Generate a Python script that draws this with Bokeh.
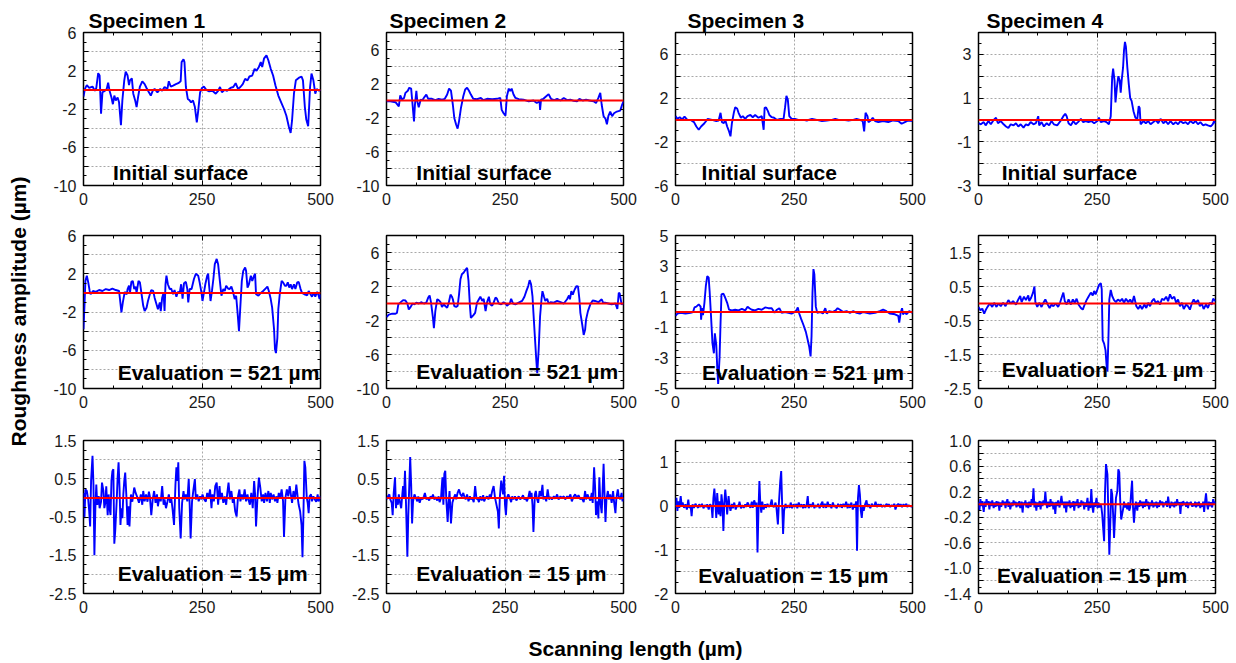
import math
from bokeh.plotting import figure
from bokeh.layouts import row, column
from bokeh.models import (Range1d, FixedTicker, LinearAxis, Span, Label,
                          CustomJSTickFormatter)
from bokeh.embed import file_html
from bokeh.resources import INLINE

FONT = "Liberation Sans"

# ---------------------------------------------------------------- labels
specimens = ["Specimen 1", "Specimen 2", "Specimen 3", "Specimen 4"]
row_captions = ["Initial surface", "Evaluation = 521 µm", "Evaluation = 15 µm"]
y_title = "Roughness amplitude (µm)"
x_title = "Scanning length (µm)"
x_ticks = [0, 250, 500]

# y axis per panel: (min, max, labelled step, decimals)
y_axes = [
    [(-10, 6, 4, 0), (-10, 8, 4, 0), (-6, 8, 4, 0), (-3, 4, 2, 0)],
    [(-10, 6, 4, 0), (-10, 8, 4, 0), (-5, 5, 2, 0), (-2.5, 2, 1, 1)],
    [(-2.5, 1.5, 1, 1), (-2.5, 1.5, 1, 1), (-2, 1.5, 1, 0), (-1.4, 1.0, 0.4, 1)],
]

# ---------------------------------------------------------------- profiles (x in µm, amplitude in µm)
s1_initial = [(0,-0.7),(3,0.1),(7,0.5),(12,0.2),(19,0.35),(24,-0.1),(27,0.2),(31,1.75),(34,1.5),(37,-2.5),(40,-0.25),(45,-0.1),(49,0.1),(52,0.75),(55,-0.1),(59,-0.8),(62,-1.5),(65,-0.6),(68,-1.1),(72,-0.8),(75,-1.3),(79,-3.7),(82,-1.1),(86,1.0),(89,1.9),(93,1.5),(96,0.5),(98,1.0),(102,1.2),(105,-0.4),(109,-1.1),(112,-1.8),(115,-0.8),(119,0.35),(124,0.9),(129,0.6),(133,0.2),(138,-0.25),(142,-0.6),(146,-0.1),(150,0.1),(156,-0.25),(162,0.1),(166,-0.1),(171,0.3),(177,0.1),(180,0.9),(184,0.35),(189,0.45),(195,0.6),(200,0.7),(205,0.9),(207,2.9),(211,3.2),(213,2.9),(216,0.3),(220,-0.95),(223,-1.05),(227,-1.3),(231,-1.1),(235,-1.8),(239,-3.4),(242,-2.2),(246,-0.25),(250,0.2),(254,0.35),(259,0),(265,-0.15),(272,-0.1),(279,-0.4),(284,-0.1),(288,0.3),(292,-0.25),(298,0),(303,-0.1),(310,0.2),(316,0.3),(321,0.7),(326,0.1),(331,0.3),(336,0.6),(341,1.15),(346,1.0),(350,1.4),(356,1.5),(361,2.2),(365,2.0),(370,2.4),(374,2.9),(377,2.4),(381,3.3),(386,3.6),(390,3.1),(395,2.2),(400,1.5),(405,0.45),(411,-0.6),(417,-1.3),(423,-2.0),(428,-2.7),(433,-3.8),(437,-4.5),(440,-3.2),(444,-0.4),(448,1.0),(454,1.25),(460,1.4),(463,1.0),(467,-1.8),(470,-3.1),(474,-3.8),(478,0.3),(481,1.7),(485,1.0),(489,-0.4),(492,0.1),(497,-0.1),(500,0)]

s2_initial = [(0,-0.1),(8,-0.1),(19,-0.2),(26,-0.7),(29,0.6),(33,0.1),(37,0.3),(40,0.9),(45,1.15),(48,1.5),(52,1.4),(55,-0.5),(58,-2.45),(60,-0.5),(63,1.15),(65,-0.1),(68,-0.8),(72,0.1),(76,0.05),(80,0.4),(84,0.7),(88,0.2),(96,0.2),(103,0.05),(110,0.2),(117,0.1),(123,0.2),(128,0.7),(132,1.4),(136,1.15),(140,-0.5),(143,-2.05),(147,-2.85),(150,-3.3),(153,-2.45),(157,-0.9),(162,0.5),(166,1.3),(170,1.5),(174,1.15),(178,0.7),(183,0.2),(191,0.15),(199,0.3),(204,0.05),(212,0.2),(223,0.15),(233,0.2),(240,0.3),(243,-1.1),(247,-1.5),(251,-1.8),(254,0.5),(258,1.4),(261,1.1),(264,1.4),(268,0.7),(272,0.3),(279,0.15),(289,0.1),(300,-0.1),(310,0),(317,-0.3),(323,-0.1),(324,-1.1),(326,0.1),(331,0.2),(337,0.5),(342,0.75),(347,0.2),(354,0.05),(360,0.2),(367,0),(374,0.3),(381,0.05),(388,0.1),(395,-0.05),(402,-0.1),(407,0.2),(414,0),(421,0.1),(428,0),(437,-0.1),(442,-0.3),(447,0.3),(451,0.9),(454,-0.5),(458,-1.85),(462,-2.15),(465,-2.8),(468,-1.85),(472,-1.3),(476,-1.85),(480,-1.5),(486,-1.3),(493,-1.2),(497,-0.5),(500,-0.1)]

s3_initial = [(0,0.35),(4,0.1),(9,0.25),(14,0.05),(19,0.3),(25,0),(32,0),(39,-0.2),(44,-0.6),(49,-0.9),(54,-0.6),(61,-0.3),(68,0.1),(77,0),(86,-0.1),(91,-0.05),(95,0.65),(98,-0.2),(102,-0.3),(105,0),(109,-0.6),(113,-1.05),(116,-1.5),(119,-0.3),(123,0.65),(126,1.15),(130,1.05),(133,0.65),(138,0.2),(142,0.35),(147,0.1),(152,0.35),(158,0.45),(163,0.25),(168,0.45),(175,0.2),(182,0.35),(186,-0.9),(188,1.1),(191,1.15),(195,0.8),(198,0.45),(203,0.25),(208,0.2),(214,0),(221,0.1),(228,0.1),(231,1.1),(234,2.2),(237,1.85),(240,0.35),(245,0.1),(252,0.1),(259,0),(270,0),(277,-0.05),(288,0.1),(298,0),(309,-0.1),(319,-0.05),(330,0),(337,0.1),(344,0),(354,0),(365,-0.05),(375,0),(382,0.1),(389,0),(395,-0.1),(398,-1.05),(401,0.65),(405,0.35),(407,-0.2),(412,-0.05),(416,0.2),(421,-0.1),(428,-0.2),(438,-0.1),(449,-0.2),(459,-0.05),(470,-0.1),(477,-0.35),(484,-0.2),(491,-0.05),(500,-0.1)]

s4_initial = [(0,-0.15),(5,-0.2),(11,-0.1),(15,-0.25),(21,-0.05),(26,-0.2),(32,0),(37,0.1),(41,-0.15),(47,-0.05),(53,-0.2),(58,-0.3),(63,-0.37),(68,-0.2),(74,-0.25),(79,-0.15),(84,-0.3),(89,-0.2),(95,-0.35),(100,-0.2),(105,-0.25),(110,-0.1),(116,-0.2),(121,-0.15),(126,0.17),(128,-0.25),(133,-0.1),(138,-0.3),(144,-0.15),(149,-0.25),(154,-0.05),(159,-0.2),(166,-0.25),(173,-0.05),(179,0.17),(183,0.28),(186,0.17),(190,-0.15),(195,-0.25),(200,-0.05),(205,-0.2),(210,-0.1),(216,0.05),(221,-0.1),(226,-0.05),(232,-0.1),(238,-0.05),(244,-0.15),(251,-0.05),(254,0.1),(258,-0.1),(265,-0.05),(270,-0.1),(275,-0.2),(279,0.17),(282,1.95),(284,2.35),(287,1.8),(289,0.8),(292,1.5),(295,2.0),(298,1.8),(300,1.25),(302,1.8),(305,2.4),(307,3.2),(309,3.57),(311,3.35),(314,2.4),(317,1.65),(320,1.0),(323,0.87),(327,0.4),(331,0.1),(335,0.05),(338,0.63),(340,0.55),(342,-0.2),(348,-0.05),(353,-0.15),(358,-0.05),(363,-0.2),(369,-0.1),(374,0),(379,-0.15),(384,0.05),(390,-0.15),(395,-0.05),(400,-0.2),(405,-0.05),(411,-0.2),(416,-0.1),(421,-0.2),(426,-0.05),(432,-0.15),(437,-0.1),(442,-0.2),(447,-0.05),(453,-0.15),(458,-0.05),(463,-0.2),(468,-0.1),(474,-0.25),(479,-0.2),(484,-0.25),(490,-0.3),(494,-0.2),(497,-0.05),(500,-0.15)]

s1_eval521 = [(0,-3.8),(2,-1.4),(4,1.25),(7,1.8),(10,1.1),(13,0.2),(15,-0.15),(20,0.2),(26,0.1),(33,0.3),(40,0.2),(47,0.4),(54,0.3),(61,0.45),(68,0.3),(75,0.2),(77,-0.65),(80,-2.05),(83,-1.0),(87,0.1),(91,-0.15),(93,0.4),(96,0.75),(98,0),(101,1.15),(104,1.25),(107,0.4),(110,0.65),(112,0),(116,1.25),(119,1.1),(123,-0.3),(126,-1.35),(129,-1.9),(133,-1.55),(136,-0.85),(140,-0.15),(143,0.3),(147,0.2),(150,-0.5),(154,-1.2),(157,-1.7),(161,-1.0),(163,-1.9),(166,-0.5),(169,0),(171,-1.9),(173,0.9),(175,1.8),(178,0.9),(182,0.4),(185,0.45),(189,-0.15),(192,0.3),(196,-0.4),(199,0.1),(203,0),(206,0.9),(209,-0.6),(212,1.0),(216,1.15),(219,0.4),(221,-1.0),(224,0.4),(228,0.4),(233,1.45),(237,2.0),(242,1.8),(245,1.1),(249,0),(251,-0.85),(254,0),(257,0.9),(261,1.8),(263,2.0),(265,0.75),(268,-0.85),(271,0.2),(274,1.45),(277,3.0),(281,3.55),(284,3.0),(288,1.1),(291,-0.3),(295,0.4),(298,0.2),(301,0.75),(305,0.45),(308,0.4),(312,0.65),(315,0.2),(319,-0.65),(322,-0.3),(325,-2.05),(328,-4.0),(331,-1.35),(334,1.25),(337,2.3),(341,2.65),(343,2.3),(346,0.55),(349,0.9),(353,1.8),(356,1.25),(360,1.8),(362,2.0),(364,-0.15),(369,-0.3),(374,0),(379,0.2),(384,0.45),(388,0.65),(391,0.2),(395,-0.65),(398,-1.55),(402,-3.8),(404,-5.9),(406,-6.3),(409,-4.7),(411,-1.7),(414,-0.15),(418,1.25),(421,1.1),(425,0.75),(428,0.75),(431,1.1),(434,0.55),(437,0.9),(440,0.4),(444,0.9),(447,0.4),(451,1.1),(454,1.15),(458,0.4),(461,0),(466,-0.15),(472,-0.25),(475,0.2),(479,-0.15),(482,-0.4),(486,0),(489,-0.4),(493,0.1),(496,-0.25),(498,-0.65),(500,-0.15)]

s2_eval521 = [(0,-1.6),(5,-1.3),(12,-1.2),(19,-1.2),(22,-1.1),(25,-0.1),(29,0.1),(35,0.4),(40,0.35),(44,0),(47,-0.7),(51,-0.4),(55,0),(59,-0.1),(63,0.1),(68,0),(73,0.15),(79,0),(84,0.1),(88,0.7),(91,0.95),(94,0.1),(98,-1.7),(100,-2.9),(103,-0.9),(107,0.5),(110,0.4),(114,0.15),(117,-0.4),(121,-0.1),(124,-0.3),(128,-0.5),(131,0),(135,1.05),(138,0.8),(140,0.5),(143,-0.3),(147,-0.4),(150,-0.3),(153,1.05),(156,2.85),(159,3.45),(163,3.65),(167,4.0),(170,4.2),(173,2.65),(176,-0.3),(178,-1.7),(183,-1.4),(187,-1.1),(191,0.1),(195,0.5),(198,0.8),(202,0.3),(205,0.55),(209,-0.9),(212,0.1),(216,0.8),(219,-0.1),(223,-0.25),(226,0.1),(230,0.7),(233,0.55),(237,0),(242,-0.1),(247,0.15),(251,0),(254,-0.25),(260,0),(263,0.55),(267,0),(272,-0.1),(279,0.1),(286,0.3),(291,0.8),(295,1.45),(299,2.05),(302,2.75),(305,2.25),(308,0.85),(310,-1.1),(313,-3.9),(316,-6.65),(318,-8.2),(321,-5.45),(324,-1.5),(327,0.5),(329,1.45),(332,0.85),(335,0.3),(339,0.55),(342,0),(346,0.15),(353,0.1),(360,0.3),(367,0.15),(374,0),(381,0.5),(385,0.95),(387,0.5),(390,1.45),(393,1.05),(397,1.65),(401,2.05),(404,2.0),(407,0.5),(409,-1.1),(413,-2.5),(416,-3.7),(419,-3.1),(421,-1.9),(425,-0.9),(430,-0.1),(435,0.35),(440,0.3),(447,0.15),(454,0.5),(457,0.1),(461,0.1),(468,0),(475,-0.1),(483,0),(487,-0.65),(490,1.25),(492,1.2),(496,-0.1),(500,0)]

s3_eval521 = [(0,-0.25),(4,-0.1),(11,-0.05),(21,-0.1),(32,-0.05),(37,0),(40,0.3),(44,0.35),(49,0.5),(53,0.35),(54,-0.5),(56,0.25),(58,-0.2),(61,0.6),(64,1.7),(67,2.35),(70,2.25),(72,1.35),(75,-0.3),(78,-2.05),(81,-2.7),(83,-1.4),(86,-2.15),(88,-3.6),(90,-4.7),(93,-2.95),(95,-0.75),(97,1.15),(101,1.2),(104,1.0),(109,0.6),(113,0.15),(119,0.1),(126,0.15),(133,0.1),(140,0.2),(147,0.1),(152,0.35),(156,0.25),(161,0.15),(168,0.1),(175,0.2),(182,0.15),(189,0.3),(196,0.25),(203,0.25),(209,-0.05),(214,0.15),(219,0.25),(224,-0.05),(231,0),(238,-0.05),(245,-0.1),(252,0),(256,0.15),(258,0.3),(261,-0.1),(265,-0.45),(270,-0.85),(275,-1.3),(278,-1.7),(282,-2.25),(285,-2.9),(287,-1.6),(289,1.25),(291,2.8),(293,2.45),(296,0.35),(299,-0.05),(305,0),(311,-0.1),(316,0.25),(319,-0.1),(324,0.05),(331,0),(338,0.1),(342,0.25),(347,0.15),(354,0),(361,0.05),(368,-0.05),(375,0.05),(382,-0.05),(389,-0.1),(396,0),(403,-0.05),(410,-0.1),(421,-0.05),(431,0.05),(438,0.15),(445,0.05),(452,-0.1),(463,-0.15),(470,-0.25),(472,-0.7),(475,-0.05),(478,0.25),(480,-0.15),(484,0),(487,-0.15),(493,0.05),(500,-0.05)]

s4_eval521 = [(0,-0.1),(4,-0.2),(8,-0.15),(12,-0.3),(15,-0.2),(19,-0.1),(24,0),(29,-0.1),(33,0.02),(38,-0.1),(42,0),(47,-0.08),(52,0.02),(57,-0.08),(63,0.1),(68,0),(73,0.07),(79,-0.03),(84,0.12),(88,0.22),(91,0.04),(96,0.2),(100,0.1),(105,0.24),(107,0.07),(111,0.17),(115,0.32),(118,0.5),(120,0.04),(124,-0.1),(128,0.02),(133,-0.1),(137,0.02),(141,0.12),(146,-0.03),(150,-0.13),(154,-0.03),(158,-0.08),(163,0),(168,-0.1),(172,0.02),(176,0.2),(179,0.32),(182,0.07),(186,-0.03),(190,0.12),(195,-0.03),(199,0.12),(203,0.02),(207,0.14),(211,-0.03),(216,-0.13),(220,-0.18),(224,-0.03),(228,0.1),(232,0.2),(237,0.32),(241,0.24),(244,0.37),(247,0.27),(251,0.42),(254,0.54),(258,0.6),(260,0.42),(262,-1.08),(265,-1.18),(268,-1.38),(270,-1.78),(272,-2.0),(274,-1.08),(276,0.12),(279,0.4),(282,0.22),(286,0.1),(290,0.04),(294,0.12),(299,0.07),(303,0.14),(307,0.02),(311,0.14),(316,0.04),(320,0.12),(324,0),(328,0.22),(333,-0.08),(337,-0.16),(341,-0.06),(345,-0.16),(350,-0.03),(354,-0.13),(358,0.02),(362,-0.08),(366,0.07),(370,0.14),(374,0.02),(379,0.07),(383,-0.03),(387,0.14),(391,0.1),(396,0.2),(400,0.07),(404,0.27),(408,0.14),(413,0.2),(417,0.02),(421,0.12),(425,-0.08),(429,0.02),(433,-0.16),(438,-0.03),(442,-0.08),(446,-0.18),(450,0),(454,0.12),(458,0.02),(463,0.1),(467,-0.08),(471,0),(475,-0.16),(480,-0.03),(484,-0.13),(488,0.02),(492,-0.03),(495,0.14),(500,0.07)]

s1_eval15 = [(0,0.13),(2,-0.53),(4,0.22),(7,0.18),(10,-0.05),(12,-0.35),(14,-0.75),(16,0.45),(19,1.1),(21,0.35),(23,-1.5),(25,-0.27),(27,0.35),(29,-0.18),(32,0.05),(34,-0.27),(37,-0.1),(39,0.4),(42,0.18),(44,-0.27),(46,-0.13),(48,0.3),(51,-0.45),(53,0.09),(55,-0.27),(57,-0.45),(59,0.45),(61,0.7),(63,0.75),(65,-1.2),(67,-0.85),(70,-0.09),(72,0.53),(74,0.93),(76,0.27),(78,-0.71),(80,-0.27),(82,-0.53),(84,0.09),(86,0.44),(88,0.66),(91,-0.09),(93,-0.71),(95,-0.22),(97,-0.75),(100,0.09),(103,-0.1),(107,0.27),(110,0.13),(114,0),(117,-0.13),(121,0.09),(124,-0.18),(126,0.18),(129,-0.09),(132,0.09),(135,-0.1),(138,0.16),(140,0.04),(143,-0.45),(146,-0.04),(149,0.18),(152,-0.13),(155,0.09),(157,-0.22),(160,0.02),(163,-0.09),(166,0.31),(169,-0.18),(171,-0.04),(174,-0.27),(177,-0.1),(180,0.09),(183,-0.13),(185,0),(188,-0.31),(191,-0.71),(194,0.35),(196,0.8),(198,0.44),(200,0.93),(202,-0.27),(205,-1.06),(208,-0.13),(211,0.18),(213,-0.04),(216,0.09),(219,-0.09),(222,0.49),(224,-0.18),(226,-1.06),(229,-0.09),(232,0.22),(235,0.49),(237,-0.04),(240,0.09),(243,-0.09),(246,0.04),(249,-0.04),(251,0.09),(254,-0.02),(258,-0.1),(261,0.13),(264,0),(267,0.22),(270,-0.27),(272,0.09),(275,-0.09),(278,0.31),(281,0.4),(284,-0.18),(287,0.31),(289,-0.04),(292,0.13),(295,-0.13),(298,0.04),(301,-0.18),(303,0.09),(306,0.4),(309,-0.04),(312,0.18),(315,-0.13),(317,0),(320,-0.35),(323,-0.49),(326,0.04),(329,0.22),(331,-0.09),(334,0.09),(337,-0.04),(340,0.22),(343,-0.09),(346,0.09),(348,-0.04),(351,-0.18),(354,0.13),(357,-0.27),(360,0.44),(362,0.09),(364,-0.75),(367,0),(370,0.53),(373,0.27),(376,-0.09),(379,0.09),(381,-0.13),(384,0.13),(387,-0.09),(390,0.18),(393,-0.13),(395,0.13),(398,-0.04),(401,0.09),(404,-0.09),(407,0.04),(409,-0.13),(412,0.13),(415,0),(418,0.22),(421,-0.09),(423,-1.02),(426,0),(429,0.22),(432,0.04),(435,0.31),(437,0.13),(440,-0.13),(443,0.18),(446,-0.04),(449,0.35),(452,0),(454,-0.18),(457,-0.35),(460,-0.71),(462,-1.55),(464,-0.44),(466,0.97),(468,0.8),(471,0),(473,-0.13),(475,-0.4),(477,0.04),(480,0.09),(482,-0.09),(485,0.04),(488,-0.04),(491,-0.1),(494,0.09),(496,-0.09),(500,0.04)]

s2_eval15 = [(0,-0.04),(3,0.04),(6,0.09),(8,-0.04),(11,-0.13),(13,-0.45),(15,0.09),(18,0.54),(20,-0.27),(22,0),(24,-0.18),(26,0.09),(28,-0.09),(31,-0.27),(33,0.04),(35,0.31),(37,0),(39,0.71),(41,-0.09),(44,-1.54),(46,-0.45),(48,0.31),(50,1.07),(52,0.36),(54,-0.67),(56,-0.09),(59,0.09),(62,0),(65,-0.09),(67,0.04),(70,-0.13),(73,0),(76,-0.04),(79,0.04),(81,0.13),(84,-0.04),(87,0),(90,-0.07),(93,0.04),(96,-0.02),(98,0.09),(101,-0.04),(104,0.02),(107,-0.07),(110,0.04),(112,-0.11),(115,0),(118,0.54),(120,-0.18),(122,0.63),(124,0.71),(126,0),(129,-0.63),(131,-0.13),(133,0.18),(136,-0.67),(139,-0.13),(142,0),(145,0.09),(147,-0.04),(150,0.13),(153,0.22),(156,0.09),(159,0.04),(162,0.13),(164,0.04),(167,-0.04),(170,0.09),(173,-0.09),(176,0.04),(178,-0.04),(181,0),(184,-0.11),(187,0.31),(190,-0.04),(192,0),(195,-0.11),(198,0.04),(201,-0.07),(204,0.07),(206,-0.09),(209,0),(212,0.04),(215,-0.04),(218,0.09),(220,0),(223,0.18),(226,0.31),(229,0),(232,-0.18),(235,-0.36),(237,-0.8),(239,0),(242,0.45),(244,0.27),(246,0.09),(248,0.58),(250,-0.18),(252,-0.45),(254,0),(257,0.09),(260,0),(263,-0.11),(265,0.04),(268,-0.04),(271,0.04),(274,-0.07),(277,0),(279,0.04),(282,-0.04),(285,0),(288,0.07),(291,-0.04),(294,0),(296,-0.09),(299,0),(302,0.18),(304,0),(306,0.13),(308,-0.18),(310,-0.89),(313,0.09),(315,0.18),(317,0),(320,-0.13),(323,0.18),(326,0.04),(329,0.34),(331,-0.04),(334,0.04),(337,-0.09),(340,0.22),(343,-0.04),(346,0.02),(349,-0.04),(353,0.04),(356,-0.02),(360,0.09),(363,-0.04),(367,0.04),(370,0),(374,0.04),(377,-0.04),(381,0.04),(384,0),(388,0.09),(391,-0.09),(395,0.04),(398,0.09),(402,0),(405,0.07),(409,-0.04),(412,0),(416,-0.11),(419,0.18),(421,-0.04),(424,0.09),(427,0),(430,-0.07),(433,0.13),(435,-0.13),(438,0.8),(440,0.31),(442,-0.45),(445,-0.09),(447,-0.54),(449,0.54),(451,-0.09),(454,-0.4),(456,0.22),(458,0.89),(460,0.09),(462,-0.63),(464,-0.04),(467,0.18),(469,-0.04),(472,0.09),(475,-0.13),(478,0.18),(480,-0.09),(483,-0.4),(485,0),(488,0.22),(490,0.04),(493,-0.04),(496,0.13),(498,-0.09),(500,0)]

s3_eval15 = [(0,-0.04),(2,0.19),(4,-0.11),(6,0.11),(8,-0.04),(11,0.23),(13,0),(15,0.08),(18,-0.04),(21,0.04),(24,-0.08),(27,0.15),(29,-0.04),(32,0),(34,-0.23),(36,0.04),(39,-0.04),(42,0.05),(45,0),(48,-0.04),(50,0.04),(53,-0.02),(56,0.05),(59,-0.05),(62,0.02),(65,-0.02),(67,0.04),(70,-0.08),(73,0.04),(76,0),(78,-0.27),(80,0.19),(82,0.4),(84,0.1),(86,-0.27),(88,0.3),(91,-0.19),(93,0.11),(95,-0.23),(97,0.27),(99,0.04),(101,-0.57),(103,0.08),(105,0.38),(107,0.13),(109,-0.19),(112,0.23),(114,0),(116,-0.11),(119,0.05),(121,-0.05),(124,0.08),(127,-0.08),(130,0.02),(133,-0.02),(135,0.1),(138,-0.05),(141,0.02),(144,-0.04),(147,0.04),(149,-0.02),(152,0.08),(155,0.02),(158,-0.04),(161,0.1),(163,-0.04),(166,0.13),(169,0.02),(171,0.08),(173,-1.06),(175,-0.11),(177,0.57),(179,0.04),(181,-0.15),(183,0.1),(186,-0.08),(189,0.04),(191,-0.04),(194,0.05),(197,-0.02),(200,0.02),(203,0.15),(205,0),(208,-0.02),(211,0.08),(213,-0.04),(216,-0.42),(218,0.04),(221,0.57),(223,0.8),(225,0.04),(227,-0.64),(229,-0.11),(232,0.05),(235,-0.04),(238,0.02),(241,-0.04),(243,0.08),(246,-0.05),(249,0.04),(252,-0.02),(255,0.05),(257,-0.05),(260,0.08),(263,-0.02),(266,0.04),(269,-0.05),(271,0.04),(274,-0.04),(277,0.05),(279,0.23),(281,-0.05),(284,0.04),(287,-0.02),(290,0.08),(293,-0.05),(295,0.02),(298,-0.02),(301,0.05),(304,-0.05),(307,0.04),(310,0.1),(312,-0.04),(315,0.05),(318,-0.04),(321,0.1),(324,-0.02),(326,0.04),(329,-0.05),(332,0.08),(335,-0.02),(337,0.02),(340,-0.05),(343,0.05),(346,-0.02),(349,0.04),(351,-0.04),(354,0.05),(357,-0.02),(360,0.1),(363,-0.05),(365,0.05),(368,-0.04),(371,0.08),(374,-0.08),(377,0.05),(379,-0.04),(381,0.11),(383,-1.02),(385,0.19),(387,0.48),(389,0.27),(391,-0.11),(393,-0.27),(395,0),(397,-0.11),(400,0.04),(403,0.13),(405,-0.02),(408,0.04),(411,-0.05),(414,0.05),(417,0),(420,0.02),(422,0.1),(425,-0.02),(428,0.04),(431,0),(433,0.04),(436,-0.02),(439,0.02),(442,-0.02),(445,0.05),(448,0),(450,0.04),(453,-0.02),(456,0.02),(459,0),(462,0.05),(464,-0.08),(467,0.02),(470,0.05),(473,0),(475,0.04),(478,-0.02),(481,0.04),(484,0),(487,0.05),(489,-0.02),(492,0.02),(495,0),(500,-0.02)]

s4_eval15 = [(0,0.04),(2,-0.1),(4,0.08),(6,-0.03),(8,0.05),(11,-0.12),(13,0.04),(15,-0.04),(17,0.08),(19,0),(21,0.05),(23,-0.08),(25,0.04),(27,-0.03),(29,0.06),(32,-0.06),(34,0.03),(36,-0.04),(38,0.05),(40,-0.03),(42,0.04),(44,-0.1),(46,0.03),(48,-0.04),(51,0.06),(53,-0.01),(55,0.04),(57,-0.06),(59,0.03),(61,0.08),(63,-0.04),(65,0.04),(67,-0.08),(70,0.03),(72,-0.03),(74,0.06),(76,-0.01),(78,0.04),(80,-0.05),(82,0.03),(84,-0.03),(86,0.05),(88,-0.06),(91,0.04),(93,-0.13),(95,0.03),(97,-0.01),(99,0.06),(101,-0.05),(103,0.03),(105,-0.06),(107,0.04),(110,-0.04),(112,0.08),(114,0.01),(116,0.25),(118,-0.05),(120,0.04),(122,-0.1),(124,0.03),(126,-0.04),(129,0.05),(131,-0.08),(133,0.04),(135,-0.03),(137,0.06),(139,-0.01),(141,0.2),(143,0.01),(145,-0.06),(147,0.04),(150,-0.04),(152,0.08),(154,-0.03),(156,0.04),(158,-0.08),(160,0.03),(162,-0.15),(164,0.04),(166,-0.03),(168,0.06),(171,-0.05),(173,0.03),(175,0.13),(177,0),(179,0.04),(181,-0.06),(183,0.04),(185,-0.13),(187,0.04),(190,-0.03),(192,0.06),(194,-0.06),(196,0.03),(198,-0.04),(200,0.05),(202,-0.1),(204,0.04),(206,-0.03),(209,0.08),(211,-0.06),(213,0.03),(215,-0.04),(217,0.06),(219,-0.01),(221,0.04),(223,-0.08),(225,0.03),(227,-0.04),(230,0.1),(232,-0.1),(234,0.04),(236,-0.06),(238,0.24),(240,-0.03),(242,-0.13),(244,0.03),(246,-0.04),(249,0.1),(251,-0.06),(253,0.03),(255,-0.05),(257,0),(259,-0.03),(261,-0.16),(263,-0.37),(265,-0.58),(267,0.21),(269,0.63),(272,0.47),(274,-0.16),(276,-0.79),(278,-0.32),(280,0.24),(282,0.16),(284,-0.16),(286,-0.53),(288,-0.21),(290,0.1),(293,0.21),(295,0.55),(297,0.5),(299,0.05),(301,-0.24),(303,-0.16),(305,-0.08),(307,0.04),(309,-0.05),(311,0),(314,-0.08),(316,0.03),(318,-0.1),(320,-0.05),(322,0.18),(324,0.37),(326,-0.05),(328,-0.29),(330,-0.08),(332,0.04),(335,-0.1),(337,0.03),(339,-0.04),(341,0.06),(343,-0.03),(345,0.04),(347,-0.06),(349,0.04),(351,-0.04),(354,0.08),(356,-0.03),(358,0.04),(360,-0.08),(362,0.03),(364,-0.03),(366,0.06),(369,-0.05),(371,0.03),(373,-0.03),(375,0.04),(377,-0.06),(379,0.03),(381,-0.04),(383,0.06),(385,-0.01),(388,0.04),(390,-0.05),(392,0.03),(394,-0.01),(396,0.05),(398,-0.04),(400,0.12),(402,0.01),(404,-0.06),(407,0.04),(409,-0.03),(411,0.03),(413,-0.05),(415,0.04),(417,-0.03),(419,0.08),(421,-0.01),(424,0.03),(426,-0.15),(428,0.04),(430,-0.03),(432,0.05),(434,-0.01),(436,0.03),(438,-0.04),(440,0.04),(442,-0.06),(444,0.03),(446,-0.01),(448,0.04),(451,-0.04),(453,0.01),(455,-0.03),(457,0.04),(459,-0.05),(461,0.03),(463,-0.03),(465,0.04),(468,-0.06),(470,0.01),(472,-0.04),(474,0.04),(476,-0.12),(478,0.04),(480,0.17),(482,0),(484,-0.08),(486,0.04),(488,-0.03),(490,0.03),(493,-0.05),(495,0.08),(497,0),(500,0.04)]

profiles = [
    [s1_initial, s2_initial, s3_initial, s4_initial],
    [s1_eval521, s2_eval521, s3_eval521, s4_eval521],
    [s1_eval15, s2_eval15, s3_eval15, s4_eval15],
]

# ---------------------------------------------------------------- layout geometry (px)
FRAME_W, FRAME_H = 237, 153
col_widths = [305, 295, 295, 301]
col_left = [43, 41, 35, 43]
row_heights = [212, 203, 205]
row_top = [32, 23, 25]
title_offsets = [5, 3, 12, 8]
# caption anchor (data units) in each panel
caption_at = [
    [(62, -8.6), (63, -8.45), (55, -4.78), (49, -2.41)],
    [(72, -8.36), (63, -8.04), (56, -3.97), (49, -1.94)],
    [(72, -1.99), (63, -1.99), (48, -1.58), (39, -1.12)],
]


def steps(lo, hi, step):
    n = int(round((hi - lo) / step))
    return [round(lo + i * step, 6) for i in range(n + 1)]


LABEL_JS = """
const k = (tick - lo) / step;
if (Math.abs(k - Math.round(k)) > 1e-6) return "";
return tick.toFixed(dec);
"""


def make_panel(r, c):
    lo, hi, lstep, dec = y_axes[r][c]
    w, h = col_widths[c], row_heights[r]
    left, top = col_left[c], row_top[r]
    p = figure(width=w, height=h, x_range=Range1d(0, 500), y_range=Range1d(lo, hi),
               toolbar_location=None, output_backend="svg",
               min_border_left=left, min_border_right=w - left - FRAME_W,
               min_border_top=top, min_border_bottom=h - top - FRAME_H,
               background_fill_color="white", border_fill_color="white",
               outline_line_color="black", outline_line_width=1.5)

    xt = FixedTicker(ticks=x_ticks, minor_ticks=steps(0, 500, 62.5))
    yt = FixedTicker(ticks=steps(lo, hi, lstep / 2), minor_ticks=steps(lo, hi, lstep / 4))
    p.xaxis.ticker = xt
    p.yaxis.ticker = yt
    p.xgrid.ticker = xt
    p.ygrid.ticker = yt
    p.yaxis.formatter = CustomJSTickFormatter(
        args=dict(lo=lo, step=lstep, dec=dec), code=LABEL_JS)

    p.add_layout(LinearAxis(ticker=xt, formatter=CustomJSTickFormatter(code="return '';"),
                            major_label_text_font_size="0px", major_label_standoff=0), "above")
    p.add_layout(LinearAxis(ticker=yt, formatter=CustomJSTickFormatter(code="return '';"),
                            major_label_text_font_size="0px", major_label_standoff=0), "right")

    for ax in p.axis:
        ax.axis_line_color = None
        ax.major_tick_in = 5
        ax.major_tick_out = 0
        ax.minor_tick_in = 3
        ax.minor_tick_out = 0
        ax.major_tick_line_color = "black"
        ax.minor_tick_line_color = "black"
    for ax in (p.below[0], p.left[0]):
        ax.major_label_text_font = FONT
        ax.major_label_text_font_size = "16px"
        ax.major_label_text_color = "#1a1a1a"
    p.below[0].major_label_standoff = 7
    p.left[0].major_label_standoff = 7

    p.grid.grid_line_color = "#a8a8a8"
    p.grid.grid_line_dash = "2 2"
    p.grid.grid_line_width = 1

    pts = profiles[r][c]
    p.line([q[0] for q in pts], [q[1] for q in pts], line_color="#0000ff", line_width=1.9)
    p.add_layout(Span(location=0, dimension="width", line_color="#ff0000", line_width=2))

    cx, cy = caption_at[r][c]
    p.add_layout(Label(x=cx, y=cy, text=row_captions[r], text_font=FONT,
                       text_font_style="bold", text_font_size="21px",
                       text_align="left", text_baseline="alphabetic", text_color="black"))

    if r == 0:
        p.title.text = specimens[c]
        p.title.align = "left"
        p.title.offset = title_offsets[c]
        p.title.text_font = FONT
        p.title.text_font_style = "bold"
        p.title.text_font_size = "21px"
        p.title.text_color = "black"
        p.title.standoff = 2
    return p


grid_rows = [row(*[make_panel(r, c) for c in range(4)]) for r in range(3)]
panels = column(*grid_rows)

ylab = figure(width=40, height=620, x_range=Range1d(0, 40), y_range=Range1d(0, 620),
              toolbar_location=None, output_backend="svg", min_border=0,
              outline_line_color=None, x_axis_type=None, y_axis_type=None)
ylab.add_layout(Label(x=18, y=309, text=y_title, angle=math.pi / 2,
                      text_align="center", text_baseline="middle", text_font=FONT,
                      text_font_style="bold", text_font_size="21px", text_color="black"))

xlab = figure(width=1236, height=43, x_range=Range1d(0, 1236), y_range=Range1d(0, 43),
              toolbar_location=None, output_backend="svg", min_border=0,
              outline_line_color=None, x_axis_type=None, y_axis_type=None)
xlab.add_layout(Label(x=635, y=15, text=x_title, text_align="center",
                      text_baseline="middle", text_font=FONT, text_font_style="bold",
                      text_font_size="21px", text_color="black"))

layout = column(row(ylab, panels), xlab)

with open("out.html", "w", encoding="utf-8") as fh:
    fh.write(file_html(layout, INLINE))
